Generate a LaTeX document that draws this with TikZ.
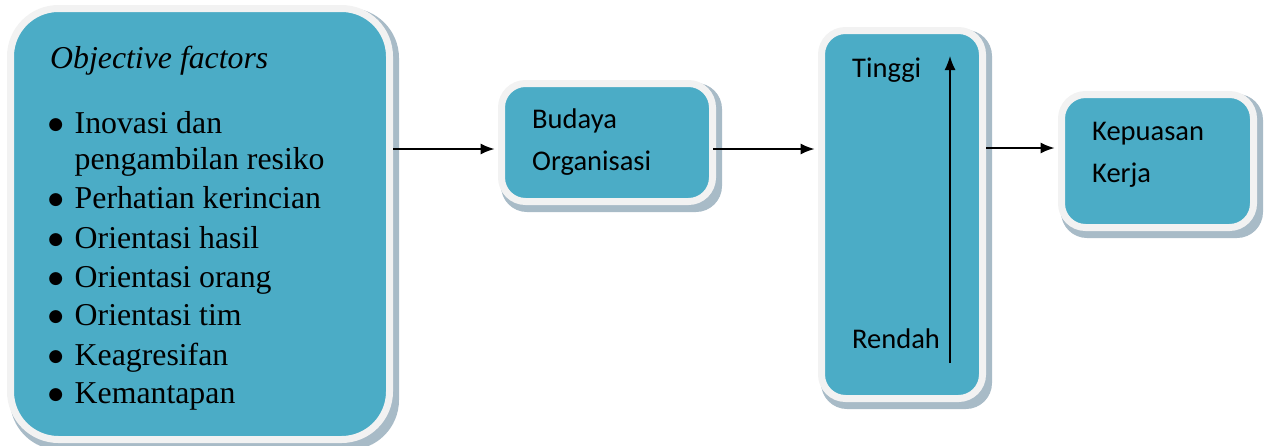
\documentclass[tikz,border=0pt]{standalone}
\usepackage{fontspec}
\setmainfont{Liberation Serif}
\newfontfamily\calib{Carlito}
\newfontfamily\dejavu{DejaVu Sans}
\usetikzlibrary{arrows.meta,backgrounds}
\definecolor{boxfill}{HTML}{4BACC6}
\definecolor{boxrim}{HTML}{F2F2F2}
\definecolor{shadowc}{HTML}{A8BBC7}
\newcommand{\bigdot}{\makebox[25pt][l]{\makebox[12pt][c]{\raisebox{3.5pt}{\dejavu\fontsize{17}{17}\selectfont ●}}}}
\begin{document}
\begin{tikzpicture}[x=1pt,y=-1pt,
  box/.style={draw=boxrim, line width=7pt, fill=boxfill, rectangle, inner sep=0pt},
  arr/.style={line width=1.4pt, -{Latex[length=14pt,width=11pt]}},
  serif/.style={font=\fontsize{31.8}{39}\selectfont, inner sep=0pt, anchor=base west},
  sans/.style={font=\calib\fontsize{28.5}{36}\selectfont, inner sep=0pt, anchor=base west}]
\useasboundingbox (0,0) rectangle (1266,445);

% boxes
\node[box, rounded corners=48pt, minimum width=379pt, minimum height=431pt] (b1) at (200,224) {};
\node[box, rounded corners=24pt, minimum width=211pt, minimum height=118pt] (b2) at (607,142.5) {};
\node[box, rounded corners=24pt, minimum width=161pt, minimum height=368pt] (b3) at (902,214.5) {};
\node[box, rounded corners=24pt, minimum width=192pt, minimum height=133pt] (b4) at (1157.5,161) {};

\begin{scope}[on background layer]
  \fill[shadowc, rounded corners=50pt] ([shift={(3,3)}]b1.north west) rectangle ([shift={(6,7)}]b1.south east);
  \fill[shadowc, rounded corners=26pt] ([shift={(3,3)}]b2.north west) rectangle ([shift={(6,7)}]b2.south east);
  \fill[shadowc, rounded corners=26pt] ([shift={(3,3)}]b3.north west) rectangle ([shift={(6,7)}]b3.south east);
  \fill[shadowc, rounded corners=26pt] ([shift={(3,3)}]b4.north west) rectangle ([shift={(6,7)}]b4.south east);
\end{scope}

% left box text
\node[serif] (t0) at (50,68) {\itshape Objective factors};
\node[serif] (t1) at (49.5,133) {\bigdot Inovasi dan};
\node[serif] (t2) at (74.5,169) {pengambilan resiko};
\node[serif] (t3) at (49.5,208) {\bigdot Perhatian kerincian};
\node[serif] (t4) at (49.5,248) {\bigdot Orientasi hasil};
\node[serif] (t5) at (49.5,287) {\bigdot Orientasi orang};
\node[serif] (t6) at (49.5,325) {\bigdot Orientasi tim};
\node[serif] (t7) at (49.5,365) {\bigdot Keagresifan};
\node[serif] (t8) at (49.5,403) {\bigdot Kemantapan};

% other texts
\node[sans] (u1) at (532,128) {Budaya};
\node[sans] (u2) at (532,170) {Organisasi};
\node[sans] (v1) at (852,77) {Tinggi};
\node[sans] (v2) at (852,348) {Rendah};
\node[sans] (w1) at (1092,140) {Kepuasan};
\node[sans] (w2) at (1092,182) {Kerja};

% inner arrow
\coordinate (lo) at (950,363);
\coordinate (hi) at (950,56);
\draw[arr] (lo) -- (hi);

% connectors
\draw[arr] (b1.east |- 0,149) -- ([xshift=-3.5pt]b2.west |- 0,149);
\draw[arr] ([xshift=-3pt]b2.east |- 0,149) -- ([xshift=-3.5pt]b3.west |- 0,149);
\draw[arr] (b3.east |- 0,148) -- ([xshift=-3.5pt]b4.west |- 0,148);
\end{tikzpicture}
\end{document}
